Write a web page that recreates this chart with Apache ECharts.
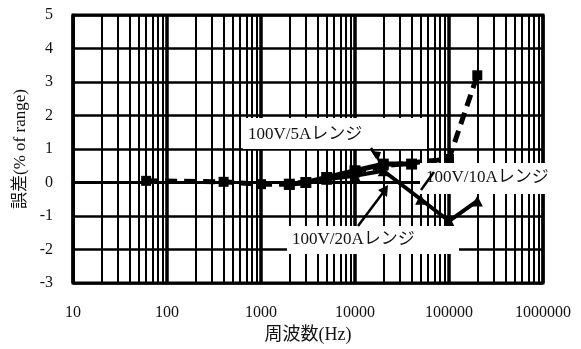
<!DOCTYPE html>
<html><head><meta charset="utf-8">
<script src="https://cdn.jsdelivr.net/npm/echarts@6/dist/echarts.min.js"></script>
<style>html,body{margin:0;padding:0;background:#fff}#c{width:581px;height:349px}</style>
</head><body><div id="c"></div>
<script>
// ---- data ----
var xTicks = [10, 100, 1000, 10000, 100000, 1000000];
var yTicks = [-3, -2, -1, 0, 1, 2, 3, 4, 5];
var minorX = [20,30,40,50,60,70,80,90,200,300,400,500,600,700,800,900,2000,3000,4000,5000,6000,7000,8000,9000,20000,30000,40000,50000,60000,70000,80000,90000,200000,300000,400000,500000,600000,700000,800000,900000];
var freq10A = [60, 400, 1000, 2000, 5000, 10000, 20000, 100000, 200000];
var val10A  = [0.05, 0.02, -0.05, -0.05, 0.1, 0.3, 0.5, 0.7, 3.2];
var freq5A  = [2000, 3000, 5000, 10000, 20000, 40000];
var val5A   = [-0.05, 0.0, 0.15, 0.35, 0.55, 0.55];
var freq20A = [2000, 5000, 10000, 20000, 50000, 100000, 200000];
var val20A  = [-0.05, 0.1, 0.2, 0.35, -0.5, -1.15, -0.55];
var labels = ['100V/5Aレンジ', '100V/10Aレンジ', '100V/20Aレンジ'];

function pairs(xs, ys){ return xs.map(function(x,i){ return [x, ys[i]]; }); }
var FONT = "'Liberation Serif','Noto Sans CJK JP',serif";
var chart = echarts.init(document.getElementById('c'), null, {renderer:'canvas'});
chart.setOption({
  animation: false,
  backgroundColor: '#fff',
  grid: {left: 73, top: 15, right: 38, bottom: 66, containLabel: false, outerBoundsMode: 'none',
         show: true, borderColor: '#000', borderWidth: 3, backgroundColor: '#fff'},
  xAxis: {
    type: 'log', logBase: 10, min: xTicks[0], max: xTicks[xTicks.length-1],
    name: '周波数(Hz)', nameLocation: 'middle', nameGap: 40,
    nameTextStyle: {fontFamily: FONT, fontSize: 18, color: '#111'},
    axisLine: {show: true, lineStyle: {color: '#000', width: 3}},
    axisTick: {show: false},
    axisLabel: {fontFamily: FONT, fontSize: 16, color: '#111', margin: 22, formatter: function(v){ return String(Math.round(v)); }},
    splitLine: {show: true, lineStyle: {color: '#000', width: 3.5}}
  },
  yAxis: {
    type: 'value', min: yTicks[0], max: yTicks[yTicks.length-1], interval: 1,
    name: '誤差(% of range)', nameLocation: 'middle', nameGap: 44,
    nameTextStyle: {fontFamily: FONT, fontSize: 17, color: '#111'},
    axisLine: {show: true, lineStyle: {color: '#000', width: 3}},
    axisTick: {show: false},
    axisLabel: {fontFamily: FONT, fontSize: 16, color: '#111', margin: 20},
    splitLine: {show: true, lineStyle: {color: '#000', width: 2.5}}
  },
  series: [
    {type: 'line', name: 'minor', data: [], silent: true,
     markLine: {silent: true, symbol: 'none', label: {show: false},
       lineStyle: {color: '#000', width: 2, type: 'solid'},
       data: minorX.map(function(v){ return {xAxis: v}; })}},
    {type: 'line', name: labels[1], data: pairs(freq10A, val10A), symbol: 'rect', symbolSize: 10,
     itemStyle: {color: '#000'}, lineStyle: {color: '#000', width: 5, type: [12, 7]}, z: 3},
    {type: 'line', name: labels[0], data: pairs(freq5A, val5A), symbol: 'rect', symbolSize: 11,
     itemStyle: {color: '#000'}, lineStyle: {color: '#000', width: 5}, z: 4},
    {type: 'line', name: labels[2], data: pairs(freq20A, val20A), symbol: 'triangle', symbolSize: 11,
     itemStyle: {color: '#000'}, lineStyle: {color: '#000', width: 4}, z: 4}
  ],
  graphic: [
    {type: 'rect', z: 100, shape: {x: 243, y: 118, width: 184, height: 31}, style: {fill: '#fff'}},
    {type: 'text', z: 101, x: 248, y: 135, style: {text: labels[0], font: '17px ' + FONT, fill: '#111', textVerticalAlign: 'middle'}},
    {type: 'rect', z: 100, shape: {x: 420, y: 163, width: 161, height: 31}, style: {fill: '#fff'}},
    {type: 'text', z: 101, x: 426, y: 178, style: {text: labels[1], font: '17px ' + FONT, fill: '#111', textVerticalAlign: 'middle'}},
    {type: 'rect', z: 100, shape: {x: 287, y: 226, width: 172, height: 28}, style: {fill: '#fff'}},
    {type: 'text', z: 101, x: 292, y: 240, style: {text: labels[2], font: '17px ' + FONT, fill: '#111', textVerticalAlign: 'middle'}},
    // arrows
    {type: 'line', z: 102, shape: {x1: 371, y1: 148, x2: 377, y2: 158}, style: {stroke: '#000', lineWidth: 2.5}},
    {type: 'polygon', z: 102, shape: {points: [[371,151],[381,152],[378,161]]}, style: {fill: '#000'}},
    {type: 'line', z: 102, shape: {x1: 434, y1: 172, x2: 421, y2: 190}, style: {stroke: '#000', lineWidth: 2.5}},
    {type: 'line', z: 102, shape: {x1: 358, y1: 226, x2: 385, y2: 190}, style: {stroke: '#000', lineWidth: 2.5}},
    {type: 'polygon', z: 102, shape: {points: [[378,190],[388,185],[387,197]]}, style: {fill: '#000'}}
  ]
});
</script></body></html>
